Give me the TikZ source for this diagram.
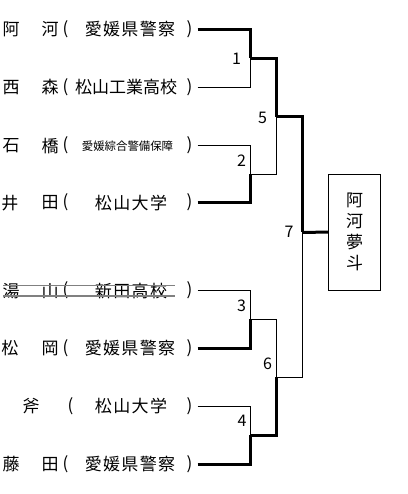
\documentclass[tikz,border=0pt]{standalone}
\usepackage{fontspec}
\setmainfont{Noto Sans CJK JP}
\newfontfamily\orgwidefont[LetterSpace=8]{Noto Sans CJK JP}
\usetikzlibrary{positioning, calc}

\begin{document}
\begin{tikzpicture}[x=1pt, y=-1pt,
  every node/.style={inner sep=0pt, anchor=center},
  player/.style={font=\fontsize{17}{17}\selectfont},
  org/.style={font=\fontsize{17}{17}\selectfont},
  orgwide/.style={font=\orgwidefont\fontsize{17}{17}\selectfont},
  orgsmall/.style={font=\fontsize{11.4}{11.4}\selectfont},
  matchno/.style={font=\fontsize{16}{16}\selectfont},
  win/.style={line width=3pt},
  lose/.style={line width=0.9pt},
  strike/.style={draw=black!50, line width=1.2pt}]
  \useasboundingbox (0,0) rectangle (407,494);

  \node[player] (a1) at (11,29.3) {阿};
  \node[player] (b1) at (50,29.3) {河};
  \node[player] (ol1) at (65.5,29.3) {(};
  \node[orgwide] (org1) at (130,29.3) {愛媛県警察};
  \node[player] (cl1) at (189.5,29.3) {)};

  \node[player] (a2) at (11,87.3) {西};
  \node[player] (b2) at (50,87.3) {森};
  \node[player] (ol2) at (65.5,87.3) {(};
  \node[org] (org2) at (126,87.3) {松山工業高校};
  \node[player] (cl2) at (189.5,87.3) {)};

  \node[player] (a3) at (11,145.7) {石};
  \node[player] (b3) at (50,145.7) {橋};
  \node[player] (ol3) at (65.5,145.7) {(};
  \node[orgsmall] (org3) at (127.5,145.7) {愛媛綜合警備保障};
  \node[player] (cl3) at (189.5,145.7) {)};

  \node[player] (a4) at (10,202.7) {井};
  \node[player] (b4) at (50,202.7) {田};
  \node[player] (ol4) at (65.5,202.7) {(};
  \node[orgwide] (org4) at (131,202.7) {松山大学};
  \node[player] (cl4) at (189.5,202.7) {)};

  \node[player] (a5) at (11,290.7) {湯};
  \node[player] (b5) at (50,290.7) {山};
  \node[player] (ol5) at (65.5,290.7) {(};
  \node[orgwide] (org5) at (131,290.7) {新田高校};
  \node[player] (cl5) at (189.5,290.7) {)};
  \draw[strike] (3,285.7) -- (175,285.7);
  \draw[strike] (3,296) -- (175,296);

  \node[player] (a6) at (10,348.3) {松};
  \node[player] (b6) at (50,348.3) {岡};
  \node[player] (ol6) at (65.5,348.3) {(};
  \node[orgwide] (org6) at (130,348.3) {愛媛県警察};
  \node[player] (cl6) at (189.5,348.3) {)};

  \node[player] (a7) at (31,406) {斧};
  \node[player] (ol7) at (70.5,406) {(};
  \node[orgwide] (org7) at (131,406) {松山大学};
  \node[player] (cl7) at (189.5,406) {)};

  \node[player] (a8) at (11,464.3) {藤};
  \node[player] (b8) at (50,464.3) {田};
  \node[player] (ol8) at (65.5,464.3) {(};
  \node[orgwide] (org8) at (130,464.3) {愛媛県警察};
  \node[player] (cl8) at (189.5,464.3) {)};

  \coordinate (r1) at (197.7,29.3);
  \coordinate (r2) at (197.7,87.3);
  \coordinate (r3) at (197.7,145.7);
  \coordinate (r4) at (197.7,202.7);
  \coordinate (r5) at (197.7,290.7);
  \coordinate (r6) at (197.7,348.3);
  \coordinate (r7) at (197.7,406);
  \coordinate (r8) at (197.7,464.3);

  \coordinate (m1) at (250.7,58.3);
  \coordinate (m2) at (250.7,174);
  \coordinate (m3) at (250.7,319.3);
  \coordinate (m4) at (250.7,435);
  \coordinate (m5) at (276.7,116.7);
  \coordinate (m6) at (276.7,377.3);
  \coordinate (m7) at (302.7,232.3);

  \node[draw, line width=0.9pt, minimum width=52.4pt, minimum height=116.3pt,
    align=center, font=\fontsize{17}{21}\selectfont] (champ) at (354.5,232.2)
    {阿\\河\\夢\\斗};

  \draw[win] (r1) -| (m1);
  \draw[lose] (r2) -| (m1);
  \draw[lose] (r3) -| (m2);
  \draw[win] (r4) -| (m2);
  \draw[lose] (r5) -| (m3);
  \draw[win] (r6) -| (m3);
  \draw[lose] (r7) -| (m4);
  \draw[win] (r8) -| (m4);

  \draw[win] (m1) -| (m5);
  \draw[lose] (m2) -| (m5);
  \draw[lose] (m3) -| (m6);
  \draw[win] (m4) -| (m6);

  \draw[win] (m5) -| (m7);
  \draw[lose] (m6) -| (m7);
  \draw[win] (m7) -- (champ.west);

  \node[matchno] (no1) at (236.5,59) {1};
  \node[matchno] (no2) at (241.5,161) {2};
  \node[matchno] (no3) at (241.5,306) {3};
  \node[matchno] (no4) at (242,421) {4};
  \node[matchno] (no5) at (262.5,117.5) {5};
  \node[matchno] (no6) at (267.5,364) {6};
  \node[matchno] (no7) at (289,232) {7};
\end{tikzpicture}
\end{document}
